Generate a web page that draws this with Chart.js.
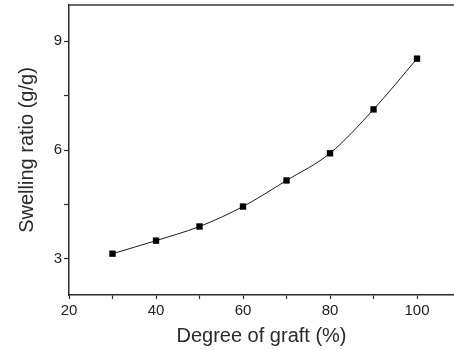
<!DOCTYPE html>
<html>
<head>
<meta charset="utf-8">
<script src="https://cdn.jsdelivr.net/npm/chart.js@4/dist/chart.umd.min.js"></script>
<style>
  html, body { margin: 0; padding: 0; background: #fff; }
  #wrap { width: 454px; height: 350px; }
</style>
</head>
<body>
<div id="wrap"><canvas id="c" width="454" height="350"></canvas></div>
<script>
// Data
const degreeOfGraft = [30, 40, 50, 60, 70, 80, 90, 100];
const swellingRatio = [3.14, 3.50, 3.89, 4.44, 5.16, 5.91, 7.12, 8.52];

// Axis ticks
const xTickValues = [20, 30, 40, 50, 60, 70, 80, 90, 100];
const xTickLabels = ['20', '', '40', '', '60', '', '80', '', '100'];
const yTickValues = [3, 4.5, 6, 7.5, 9];
const yTickLabels = ['3', '', '6', '', '9'];

const xTitle = 'Degree of graft (%)';
const yTitle = 'Swelling ratio (g/g)';

const points = degreeOfGraft.map((x, i) => ({ x: x, y: swellingRatio[i] }));

const FONT = "'Liberation Sans', Arial, Helvetica, sans-serif";
const AXIS = '#2a2a2a';

function zeroPad(scale) {
  scale.paddingTop = 0;
  scale.paddingBottom = 0;
  scale.paddingLeft = 0;
  scale.paddingRight = 0;
}

const topFrame = {
  id: 'topFrame',
  afterDraw(chart) {
    const { ctx, chartArea } = chart;
    ctx.save();
    ctx.strokeStyle = '#3a3a3a';
    ctx.lineWidth = 1.5;
    ctx.beginPath();
    ctx.moveTo(chartArea.left, chartArea.top);
    ctx.lineTo(chartArea.right, chartArea.top);
    ctx.stroke();
    ctx.restore();
  }
};

new Chart(document.getElementById('c'), {
  type: 'line',
  data: {
    datasets: [{
      data: points,
      borderColor: '#1a1a1a',
      borderWidth: 1,
      backgroundColor: '#000',
      pointBackgroundColor: '#000',
      pointBorderColor: '#000',
      pointBorderWidth: 0,
      pointStyle: 'rect',
      pointRadius: 4.5,
      cubicInterpolationMode: 'monotone',
      fill: false
    }]
  },
  options: {
    responsive: false,
    animation: false,
    layout: { autoPadding: false, padding: { top: 5, right: 0, left: 0, bottom: 0 } },
    plugins: { legend: { display: false }, tooltip: { enabled: false } },
    scales: {
      x: {
        type: 'linear',
        min: 20,
        max: 108.5,
        afterBuildTicks(scale) { scale.ticks = xTickValues.map(v => ({ value: v })); },
        afterFit(scale) { scale.height = 55; zeroPad(scale); },
        ticks: {
          autoSkip: false,
          maxRotation: 0,
          padding: 3,
          color: '#222',
          font: { family: FONT, size: 15 },
          callback(value, index) { return xTickLabels[index]; }
        },
        grid: { drawOnChartArea: false, tickLength: 4, tickColor: AXIS, tickWidth: 1.2 },
        border: { display: true, color: AXIS, width: 1.5 },
        title: {
          display: true,
          text: xTitle,
          color: '#2a2a2a',
          font: { family: FONT, size: 20 },
          padding: { top: 0, bottom: 2 }
        }
      },
      y: {
        type: 'linear',
        min: 2,
        max: 10,
        afterBuildTicks(scale) { scale.ticks = yTickValues.map(v => ({ value: v })); },
        afterFit(scale) { scale.width = 69; zeroPad(scale); },
        ticks: {
          autoSkip: false,
          padding: 2,
          color: '#222',
          font: { family: FONT, size: 15 },
          callback(value, index) { return yTickLabels[index]; }
        },
        grid: { drawOnChartArea: false, tickLength: 5, tickColor: AXIS, tickWidth: 1.2 },
        border: { display: true, color: AXIS, width: 1.5 },
        title: {
          display: true,
          text: yTitle,
          color: '#2a2a2a',
          font: { family: FONT, size: 20 },
          padding: { top: 15, bottom: 0 }
        }
      }
    }
  },
  plugins: [topFrame]
});
</script>
</body>
</html>
